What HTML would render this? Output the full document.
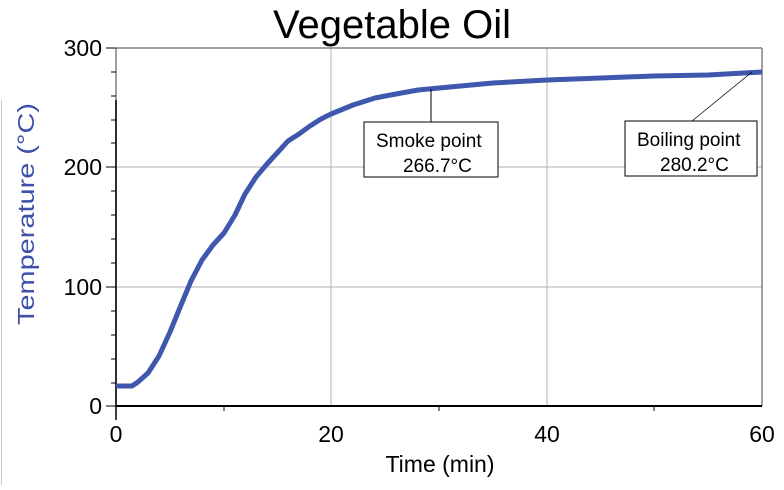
<!DOCTYPE html><html><head><style>body{margin:0;background:#fff}svg text{font-family:"Liberation Sans",sans-serif}</style></head><body>
<svg width="784" height="485" xmlns="http://www.w3.org/2000/svg">
<text x="392" y="38" font-size="40" text-anchor="middle">Vegetable Oil</text>
<line x1="1.5" y1="100" x2="1.5" y2="485" stroke="#c8c8d8"/>
<g stroke="#b0b0b0" stroke-width="1">
<line x1="116" y1="167" x2="762" y2="167"/><line x1="116" y1="287" x2="762" y2="287"/>
<line x1="331" y1="48" x2="331" y2="406"/><line x1="547" y1="48" x2="547" y2="406"/>
</g>
<g stroke="#808080" stroke-width="1.5" fill="none"><line x1="116" y1="48" x2="762" y2="48"/><line x1="116" y1="48" x2="116" y2="406"/><line x1="762" y1="48" x2="762" y2="406"/></g>
<line x1="116" y1="406" x2="762" y2="406" stroke="#000" stroke-width="2"/>
<line x1="116" y1="100" x2="116" y2="420" stroke="#000" stroke-width="1.5"/>
<g stroke="#000" stroke-width="1">
<line x1="106" y1="48" x2="116" y2="48"/><line x1="106" y1="167" x2="116" y2="167"/><line x1="106" y1="287" x2="116" y2="287"/><line x1="106" y1="406" x2="116" y2="406"/>
<line x1="111" y1="72" x2="116" y2="72"/><line x1="111" y1="96" x2="116" y2="96"/><line x1="111" y1="120" x2="116" y2="120"/><line x1="111" y1="143" x2="116" y2="143"/>
<line x1="111" y1="191" x2="116" y2="191"/><line x1="111" y1="215" x2="116" y2="215"/><line x1="111" y1="239" x2="116" y2="239"/><line x1="111" y1="263" x2="116" y2="263"/>
<line x1="111" y1="311" x2="116" y2="311"/><line x1="111" y1="335" x2="116" y2="335"/><line x1="111" y1="359" x2="116" y2="359"/><line x1="111" y1="383" x2="116" y2="383"/>
<line x1="224" y1="406" x2="224" y2="411"/><line x1="439" y1="406" x2="439" y2="411"/><line x1="654" y1="406" x2="654" y2="411"/>
</g>
<g font-size="23" text-anchor="end"><text x="102" y="56">300</text><text x="102" y="175">200</text><text x="102" y="295">100</text><text x="102" y="414">0</text></g>
<g font-size="23" text-anchor="middle"><text x="116" y="442">0</text><text x="331" y="442">20</text><text x="547" y="442">40</text><text x="762" y="442">60</text></g>
<text x="440" y="472" font-size="23" text-anchor="middle">Time (min)</text>
<text transform="translate(34,214) rotate(-90)" font-size="23" fill="#4050a8" text-anchor="middle" textLength="222" lengthAdjust="spacingAndGlyphs">Temperature (°C)</text>
<polyline fill="none" stroke="#3f58ae" stroke-width="5" stroke-linejoin="round" points="116,386 132,386 138,382 148,373 159,356 170,332 181,305 191,281 202,260 213,245 224,233 235,215 245,194 256,177 267,164 278,152 288,141 299,134 310,126 321,119 331,114 353,105 375,98 396,94 418,90 439,88 493,83 547,80 601,78 654,76 708,75 762,72"/>
<line x1="431" y1="89" x2="431" y2="122" stroke="#000"/>
<line x1="752" y1="72" x2="692" y2="121" stroke="#000" stroke-width="0.8"/>
<rect x="364" y="122" width="134" height="55" fill="#fff" stroke="#000"/>
<rect x="625" y="121" width="132" height="55" fill="#fff" stroke="#000"/>
<g font-size="19"><text x="376" y="147">Smoke point</text><text x="403" y="172">266.7°C</text><text x="637" y="146">Boiling point</text><text x="660" y="171">280.2°C</text></g>
</svg></body></html>
